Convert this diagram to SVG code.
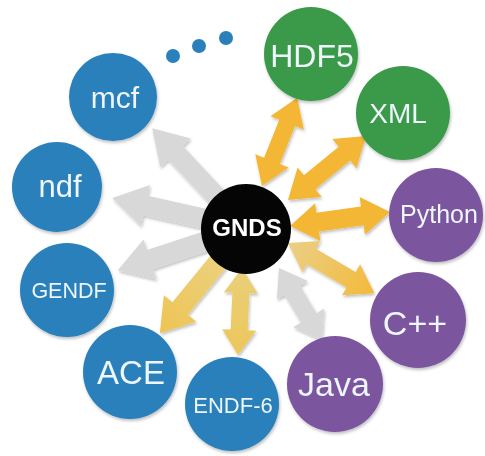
<svg xmlns="http://www.w3.org/2000/svg" width="485" height="456" viewBox="0 0 485 456">
<style>
.blue{fill:#2a80bb}
.green{fill:#3b9a48}
.purple{fill:#7b559f}
.hub{fill:#050505}
.lbl{font-family:"Liberation Sans",Arial,sans-serif;fill:#eef5fb;text-anchor:middle}
.hubl{font-family:"Liberation Sans",Arial,sans-serif;fill:#ffffff;text-anchor:middle;font-weight:bold}
.gray{fill:#d8d8d8}
.yel{fill:#f3b735}
</style>
<defs>
<filter id="sh" x="-20%" y="-20%" width="140%" height="140%">
<feDropShadow dx="1" dy="2" stdDeviation="1.5" flood-color="#000" flood-opacity="0.25"/>
</filter>
<linearGradient id="gAce" x1="0" y1="0" x2="1" y2="0">
<stop offset="0" stop-color="#ead68e"/>
<stop offset="1" stop-color="#eec453"/>
</linearGradient>
<linearGradient id="gEndf" x1="0" y1="0" x2="1" y2="0">
<stop offset="0" stop-color="#ead07a"/>
<stop offset="1" stop-color="#ecc65a"/>
</linearGradient>
<linearGradient id="gCpp" x1="0" y1="0" x2="1" y2="0">
<stop offset="0" stop-color="#ebcf86"/>
<stop offset="1" stop-color="#f3ba3a"/>
</linearGradient>
</defs>
<g id="connectors" filter="url(#sh)">
<polygon class="gray" transform="translate(246,228) rotate(-133.2)" points="0,-10 103,-10 103,-21 137,0 103,21 103,10 0,10"/>
<polygon class="gray" transform="translate(246,228) rotate(-167.4)" points="0,-10 103,-10 103,-21 137,0 103,21 103,10 0,10"/>
<polygon class="gray" transform="translate(246,228) rotate(161.8)" points="0,-10 101,-10 101,-21 135,0 101,21 101,10 0,10"/>
<polygon fill="url(#gAce)" transform="translate(246,228) rotate(129.3)" points="0,-10 104,-10 104,-21 136,0 104,21 104,10 0,10"/>
<polygon fill="url(#gEndf)" transform="translate(242,268) rotate(92.6)" points="0,0 25,-17 25,-8.5 62,-8.5 62,-17 87,0 62,17 62,8.5 25,8.5 25,17"/>
<polygon class="gray" transform="translate(279,268) rotate(59.2)" points="0,0 26,-18 26,-9 58,-9 58,-18 84,0 58,18 58,9 26,9 26,18"/>
<polygon fill="url(#gCpp)" transform="translate(288,243) rotate(30.2)" points="0,0 27,-18 27,-9 73,-9 73,-18 100,0 73,18 73,9 27,9 27,18"/>
<polygon class="yel" transform="translate(290,226) rotate(-8)" points="0,0 28,-19 28,-9.5 73,-9.5 73,-19 101,0 73,19 73,9.5 28,9.5 28,19"/>
<polygon class="yel" transform="translate(288,200) rotate(-39.4)" points="0,0 28,-19 28,-9 73,-9 73,-19 101,0 73,19 73,9 28,9 28,19"/>
<polygon class="yel" transform="translate(262,186) rotate(-68.3)" points="0,0 27,-18 27,-8.5 68,-8.5 68,-18 95,0 68,18 68,8.5 27,8.5 27,18"/>
</g>
<g id="dots">
<circle class="blue" cx="173" cy="56" r="7"/>
<circle class="blue" cx="199" cy="46" r="7"/>
<circle class="blue" cx="226" cy="38" r="7"/>
</g>
<g id="mcf" filter="url(#sh)"><circle class="blue" cx="113" cy="97" r="44"/><text class="lbl" x="115" y="108" font-size="30">mcf</text></g>
<g id="ndf" filter="url(#sh)"><circle class="blue" cx="57" cy="187" r="45"/><text class="lbl" x="60" y="197" font-size="31">ndf</text></g>
<g id="GENDF" filter="url(#sh)"><circle class="blue" cx="67" cy="290" r="47"/><text class="lbl" x="69" y="298" font-size="21.5">GENDF</text></g>
<g id="ACE" filter="url(#sh)"><circle class="blue" cx="130" cy="372" r="47"/><text class="lbl" x="131" y="384" font-size="33">ACE</text></g>
<g id="ENDF-6" filter="url(#sh)"><circle class="blue" cx="232" cy="404" r="47"/><text class="lbl" x="233" y="413" font-size="22">ENDF-6</text></g>
<g id="Java" filter="url(#sh)"><circle class="purple" cx="335" cy="384" r="48"/><text class="lbl" x="334" y="396" font-size="34">Java</text></g>
<g id="Cpp" filter="url(#sh)"><circle class="purple" cx="418" cy="320" r="48"/><text class="lbl" x="415" y="335" font-size="34">C++</text></g>
<g id="Python" filter="url(#sh)"><circle class="purple" cx="436" cy="215" r="47"/><text class="lbl" x="439" y="223" font-size="25">Python</text></g>
<g id="XML" filter="url(#sh)"><circle class="green" cx="403" cy="113" r="47"/><text class="lbl" x="398" y="123" font-size="28">XML</text></g>
<g id="HDF5" filter="url(#sh)"><circle class="green" cx="311" cy="54" r="47"/><text class="lbl" x="312" y="67" font-size="32">HDF5</text></g>
<g id="GNDS"><circle class="hub" cx="246" cy="229" r="45"/><text class="hubl" x="247" y="236" font-size="24">GNDS</text></g>
</svg>
